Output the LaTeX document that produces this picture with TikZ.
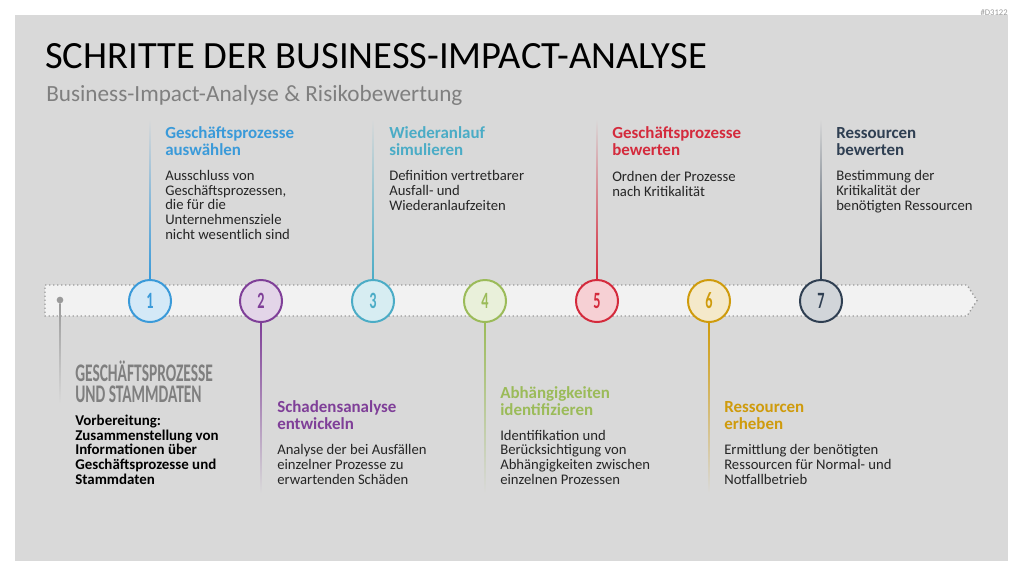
\documentclass[tikz,border=0pt]{standalone}
\usepackage{fontspec}
\setmainfont{Carlito}
\newfontfamily\condfont[FakeStretch=0.61]{Carlito}
\usetikzlibrary{positioning,calc}

\definecolor{bgpanel}{HTML}{D9D9D9}
\definecolor{barfill}{HTML}{F2F2F2}
\definecolor{bardot}{HTML}{9A9A9A}
\definecolor{greytxt}{HTML}{7F7F7F}
\definecolor{bodytxt}{HTML}{262626}
\definecolor{stepA}{HTML}{3A9AD9}
\definecolor{stepB}{HTML}{7F3F98}
\definecolor{stepC}{HTML}{4BACC6}
\definecolor{stepD}{HTML}{9BBB59}
\definecolor{stepE}{HTML}{D42A3C}
\definecolor{stepF}{HTML}{CF9B0C}
\definecolor{stepG}{HTML}{2F3F52}

\begin{document}
\begin{tikzpicture}[
  x=0.75pt, y=-0.75pt,
  stepnum/.style={circle, draw=#1, fill=#1!22, line width=1.5pt, minimum size=31.5pt,
    inner sep=0pt, text=#1, font=\condfont\bfseries\fontsize{17.5}{17.5}\selectfont},
  head/.style={anchor=base west, inner sep=0pt, align=left, text=#1,
    font=\bfseries\fontsize{12.7}{12.75}\selectfont},
  body/.style={anchor=base west, inner sep=0pt, align=left, text=bodytxt,
    font=\fontsize{11}{10.9}\selectfont}
]
\useasboundingbox (0,0) rectangle (1024,576);

% ---------- panel and title ----------
\fill[bgpanel] (15,15) rectangle (1008,561);
\node[anchor=base east, inner sep=0pt, text=bardot, font=\fontsize{6.5}{7}\selectfont] (tag) at (1008,15) {\#D3122};
\node[anchor=base west, inner sep=0pt, font=\fontsize{28.9}{30}\selectfont] (title) at (45,68.5) {SCHRITTE DER BUSINESS-IMPACT-ANALYSE};
\node[anchor=base west, inner sep=0pt, text=greytxt, font=\fontsize{17.4}{18}\selectfont] (subtitle) at (46,101) {Business-Impact-Analyse \& Risikobewertung};

% ---------- timeline bar ----------
\draw[bardot, dotted, line width=1pt, fill=barfill] (45,285) -- (967,285) -- (977,300.5) -- (967,316) -- (45,316) -- cycle;

% ---------- steps ----------
\node[stepnum=stepA] (c1) at (150,301) {1};
\node[stepnum=stepB] (c2) at (261,301) {2};
\node[stepnum=stepC] (c3) at (373,301) {3};
\node[stepnum=stepD] (c4) at (485,301) {4};
\node[stepnum=stepE] (c5) at (597,301) {5};
\node[stepnum=stepF] (c6) at (709,301) {6};
\node[stepnum=stepG] (c7) at (821,301) {7};
\node[circle, fill=bardot, minimum size=5pt, inner sep=0pt] (start) at (60,300) {};

% ---------- fading stems ----------
\shade[top color=bgpanel, bottom color=stepA] ($(c1.north)+(-0.8,-160)$) rectangle ($(c1.north)+(0.8,0)$);
\shade[top color=bgpanel, bottom color=stepC] ($(c3.north)+(-0.8,-160)$) rectangle ($(c3.north)+(0.8,0)$);
\shade[top color=bgpanel, bottom color=stepE] ($(c5.north)+(-0.8,-160)$) rectangle ($(c5.north)+(0.8,0)$);
\shade[top color=bgpanel, bottom color=stepG] ($(c7.north)+(-0.8,-160)$) rectangle ($(c7.north)+(0.8,0)$);
\shade[top color=stepB, bottom color=bgpanel] ($(c2.south)+(-0.8,0)$) rectangle ($(c2.south)+(0.8,170)$);
\shade[top color=stepD, bottom color=bgpanel] ($(c4.south)+(-0.8,0)$) rectangle ($(c4.south)+(0.8,170)$);
\shade[top color=stepF, bottom color=bgpanel] ($(c6.south)+(-0.8,0)$) rectangle ($(c6.south)+(0.8,170)$);
\shade[top color=bardot, bottom color=bgpanel] ($(start.south)+(-0.6,0)$) rectangle ($(start.south)+(0.6,100)$);

% ---------- texts (anchored at the last line) ----------
\node[anchor=base west, inner sep=0pt, align=left, text=greytxt,
  font=\condfont\bfseries\fontsize{19}{15.75}\selectfont] (h0) at (75,402) {GESCHÄFTSPROZESSE\\UND STAMMDATEN};
\node[body, text=black, font=\bfseries\fontsize{11.2}{10.9}\selectfont] (b0) at (75,484)
  {Vorbereitung:\\Zusammenstellung von\\Informationen über\\Geschäftsprozesse und\\Stammdaten};

\node[head=stepA] (h1) at (165,155) {Geschäftsprozesse\\auswählen};
\node[body] (b1) at (165,239) {Ausschluss von\\Geschäftsprozessen,\\die für die\\Unternehmensziele\\nicht wesentlich sind};

\node[head=stepB] (h2) at (277,429) {Schadensanalyse\\entwickeln};
\node[body] (b2) at (277,484) {Analyse der bei Ausfällen\\einzelner Prozesse zu\\erwartenden Schäden};

\node[head=stepC] (h3) at (389,155) {Wiederanlauf\\simulieren};
\node[body] (b3) at (389,210) {Definition vertretbarer\\Ausfall- und\\Wiederanlaufzeiten};

\node[head=stepD] (h4) at (500,415) {Abhängigkeiten\\identifizieren};
\node[body] (b4) at (500,484) {Identifikation und\\Berücksichtigung von\\Abhängigkeiten zwischen\\einzelnen Prozessen};

\node[head=stepE] (h5) at (612,155) {Geschäftsprozesse\\bewerten};
\node[body] (b5) at (612,196) {Ordnen der Prozesse\\nach Kritikalität};

\node[head=stepF] (h6) at (724,429) {Ressourcen\\erheben};
\node[body] (b6) at (724,484) {Ermittlung der benötigten\\Ressourcen für Normal- und\\Notfallbetrieb};

\node[head=stepG] (h7) at (836,155) {Ressourcen\\bewerten};
\node[body] (b7) at (836,210) {Bestimmung der\\Kritikalität der\\benötigten Ressourcen};
\end{tikzpicture}
\end{document}
